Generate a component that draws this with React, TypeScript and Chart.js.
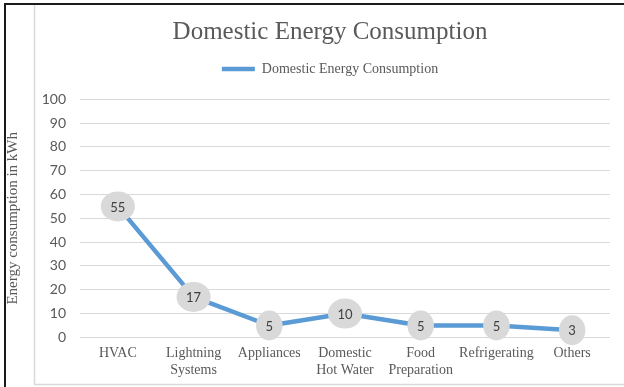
import React, { useEffect, useRef } from "react";
import { Chart, registerables } from "chart.js";

Chart.register(...registerables);

const categories: (string | string[])[] = [
  "HVAC",
  ["Lightning", "Systems"],
  "Appliances",
  ["Domestic", "Hot Water"],
  ["Food", "Preparation"],
  "Refrigerating",
  "Others",
];
const consumption = [55, 17, 5, 10, 5, 5, 3];
const seriesName = "Domestic Energy Consumption";
const chartTitle = "Domestic Energy Consumption";
const yAxisTitle = "Energy consumption in kWh";
const yMin = 0;
const yMax = 100;
const yStep = 10;

const SERIF = "'Liberation Serif', 'Times New Roman', serif";
const SANS = "Lato, 'Open Sans', sans-serif";
const TEXT_GREY = "#595959";
const GRID_GREY = "#D9D9D9";
const LINE_BLUE = "#5B9BD5";

// Outer frame lines and white background
const framePlugin = {
  id: "frame",
  beforeDraw(chart: Chart) {
    const { ctx, width, height } = chart;
    ctx.save();
    ctx.fillStyle = "#ffffff";
    ctx.fillRect(0, 0, width, height);
    // light chart border
    ctx.strokeStyle = GRID_GREY;
    ctx.lineWidth = 1.5;
    ctx.beginPath();
    ctx.moveTo(34.5, 4);
    ctx.lineTo(34.5, 384.5);
    ctx.lineTo(width, 384.5);
    ctx.stroke();
    // dark outer edge
    ctx.strokeStyle = "#1a1a1a";
    ctx.lineWidth = 2;
    ctx.beginPath();
    ctx.moveTo(width, 4);
    ctx.lineTo(5, 4);
    ctx.lineTo(5, height);
    ctx.stroke();
    ctx.restore();
  },
};

// Grey elliptical callouts holding each point's value
const calloutPlugin = {
  id: "callouts",
  afterDatasetsDraw(chart: Chart) {
    const { ctx } = chart;
    const meta = chart.getDatasetMeta(0);
    const values = chart.data.datasets[0].data as number[];
    ctx.save();
    ctx.font = `13px ${SANS}`;
    ctx.textAlign = "center";
    ctx.textBaseline = "middle";
    meta.data.forEach((pt: any, i: number) => {
      const text = String(values[i]);
      const w = ctx.measureText(text).width;
      const rx = w / 2 + 9.5;
      const ry = 15;
      ctx.fillStyle = "#D9D9D9";
      ctx.beginPath();
      ctx.ellipse(pt.x, pt.y, rx, ry, 0, 0, Math.PI * 2);
      ctx.fill();
      ctx.fillStyle = "#404040";
      ctx.fillText(text, pt.x, pt.y + 1);
    });
    ctx.restore();
  },
};

export default function App() {
  const canvasRef = useRef<HTMLCanvasElement | null>(null);

  useEffect(() => {
    if (!canvasRef.current) return;
    const chart = new Chart(canvasRef.current, {
      type: "line",
      data: {
        labels: categories,
        datasets: [
          {
            label: seriesName,
            data: consumption,
            borderColor: LINE_BLUE,
            backgroundColor: LINE_BLUE,
            borderWidth: 4.5,
            borderCapStyle: "round",
            borderJoinStyle: "round",
            pointRadius: 0,
            tension: 0,
          },
        ],
      },
      options: {
        responsive: false,
        animation: false,
        layout: { padding: { top: 6, left: 36, right: 0, bottom: 0 } },
        plugins: {
          title: {
            display: true,
            text: chartTitle,
            color: TEXT_GREY,
            font: { family: SERIF, size: 25, weight: "normal" },
            padding: { top: 11, bottom: 0 },
          },
          legend: {
            display: true,
            position: "top",
            labels: {
              color: TEXT_GREY,
              font: { family: SERIF, size: 14 },
              usePointStyle: true,
              pointStyle: "line",
              pointStyleWidth: 33,
              padding: 15,
            },
          },
          // empty box below the legend, spacing it from the plot
          subtitle: {
            display: true,
            text: "",
            weight: 500,
            font: { size: 1 },
            padding: { top: 0, bottom: 12 },
          },
          tooltip: { enabled: false },
        },
        scales: {
          x: {
            offset: true,
            grid: { display: false, drawTicks: false },
            border: { display: false },
            ticks: {
              color: TEXT_GREY,
              font: { family: SERIF, size: 14, lineHeight: 1.2 },
              padding: 8,
              maxRotation: 0,
              autoSkip: false,
            },
            afterFit(scale: any) {
              scale.paddingRight = 14;
            },
          },
          y: {
            min: yMin,
            max: yMax,
            grid: { color: GRID_GREY, lineWidth: 1, drawTicks: false },
            border: { display: false },
            ticks: {
              stepSize: yStep,
              color: TEXT_GREY,
              font: { family: SANS, size: 14 },
              padding: 14,
            },
            title: {
              display: true,
              text: yAxisTitle,
              color: TEXT_GREY,
              font: { family: SERIF, size: 15 },
              padding: { top: -32, bottom: 0 },
            },
            afterFit(scale: any) {
              scale.width = 44;
            },
          },
        },
      },
      plugins: [framePlugin, calloutPlugin],
    });
    return () => chart.destroy();
  }, []);

  return (
    <div style={{ position: "fixed", left: 0, top: 0, width: 624, height: 387, background: "#fff" }}>
      <canvas ref={canvasRef} width={624} height={387} style={{ display: "block" }} />
    </div>
  );
}
